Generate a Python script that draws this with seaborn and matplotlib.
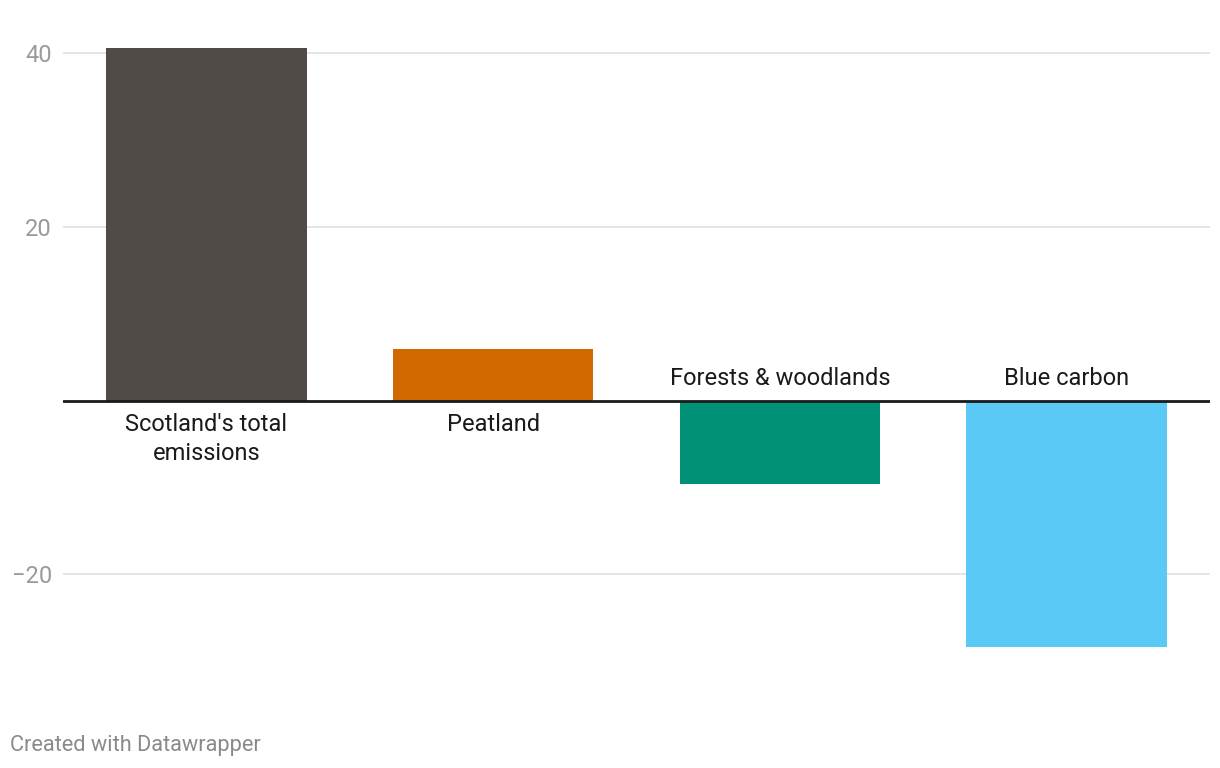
import matplotlib
matplotlib.use("Agg")
import matplotlib.pyplot as plt
import seaborn as sns
import pandas as pd

categories = ["Scotland's total\nemissions", "Peatland", "Forests & woodlands", "Blue carbon"]
values = [40.6, 5.95, -9.55, -28.4]
colors = ["#504b47", "#cf6900", "#009177", "#5ac9f6"]
yticks = [-20, 20, 40]

sns.set_theme(style="white")
plt.rcParams['font.family'] = ['Roboto', 'DejaVu Sans']

df = pd.DataFrame({"category": categories, "value": values})

fig = plt.figure(figsize=(12.2, 7.68), dpi=100)
W, H = 1220, 768
ax_left, ax_right, ax_top, ax_bottom = 63, 1210, 40, 700
ax = fig.add_axes([ax_left / W, 1 - ax_bottom / H, (ax_right - ax_left) / W, (ax_bottom - ax_top) / H])

sns.barplot(data=df, x="category", y="value", hue="category", palette=colors,
            legend=False, width=0.7, ax=ax, saturation=1, zorder=3, linewidth=0)

ppu = 8.685
zero_px = 400.7
ax.set_ylim(-(ax_bottom - zero_px) / ppu, (zero_px - ax_top) / ppu)
ax.set_xlim(-0.5, 3.5)

for y in yticks:
    ax.axhline(y, color="#e3e3e3", lw=1.3, zorder=1)
ax.axhline(0, color="#1a1a1a", lw=2, zorder=4)

ax.set_yticks(yticks)
ax.set_yticklabels([str(t).replace("-", "\u2212") for t in yticks], color="#9a9a9a", fontsize=17)
ax.tick_params(axis="y", length=0, pad=8)
ax.set_xticks([])
ax.set_xlabel("")
ax.set_ylabel("")
for s in ax.spines.values():
    s.set_visible(False)

for i, (cat, v) in enumerate(zip(categories, values)):
    if v >= 0:
        ax.annotate(cat, (i, 0), xytext=(0, -9), textcoords="offset points",
                    ha="center", va="top", fontsize=17, color="#1a1a1a", linespacing=1.32)
    else:
        ax.annotate(cat, (i, 0), xytext=(0, 8), textcoords="offset points",
                    ha="center", va="bottom", fontsize=17, color="#1a1a1a", linespacing=1.32)

fig.text(10 / W, 1 - 745 / H, "Created with Datawrapper", color="#8a8a8a", fontsize=15.7,
         ha="left", va="center")

fig.savefig("out.png", dpi=100, facecolor="white")
